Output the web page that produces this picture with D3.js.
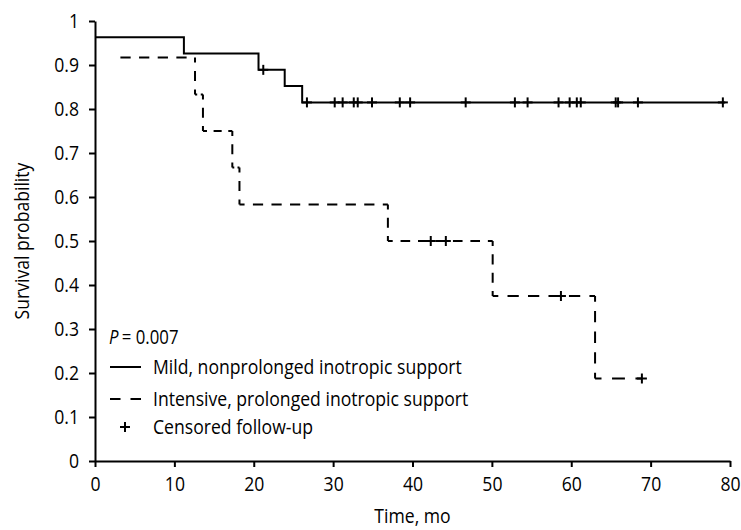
<!DOCTYPE html>
<html>
<head>
<meta charset="utf-8">
<script src="https://cdn.jsdelivr.net/npm/d3@7"></script>
<style>
  html, body { margin: 0; padding: 0; background: #fff; }
  svg text { font-family: "Open Sans", "Noto Sans", sans-serif; fill: #000; }
</style>
</head>
<body>
<svg id="chart" width="741" height="530"></svg>
<script>
// ---------- data ----------
const xTicks = [0, 10, 20, 30, 40, 50, 60, 70, 80];
const yTicks = [0, 0.1, 0.2, 0.3, 0.4, 0.5, 0.6, 0.7, 0.8, 0.9, 1];

// Mild, nonprolonged inotropic support
const mildStart = 0;
const mildEnd = 79.4;
const mildEventTimes = [11.2, 20.6, 23.9, 26.1];
const mildSurvival = [0.963, 0.926, 0.889, 0.852, 0.815];
const mildCensored = [21.2, 26.7, 30.2, 31.2, 32.6, 33.1, 34.9, 38.4, 39.7, 46.7,
                      52.9, 54.5, 58.4, 59.8, 60.7, 61.2, 65.6, 65.9, 68.4, 79.1];

// Intensive, prolonged inotropic support
const intStart = 3.2;
const intEnd = 68.9;
const intEventTimes = [12.6, 13.6, 17.3, 18.2, 36.9, 50.1, 63.0];
const intSurvival = [0.917, 0.833, 0.75, 0.667, 0.583, 0.5, 0.375, 0.1875];
const intCensored = [42.3, 44.2, 58.7, 68.9];

const legendLabels = ["Mild, nonprolonged inotropic support",
                      "Intensive, prolonged inotropic support",
                      "Censored follow-up"];
const pLabel = "= 0.007";
const xTitle = "Time, mo";
const yTitle = "Survival probability";

// ---------- layout ----------
const svg = d3.select("#chart");
const x = d3.scaleLinear().domain([0, 80]).range([95, 730]);
const y = d3.scaleLinear().domain([0, 1]).range([461, 21]);
const FS = 20;
const SQ = 0.88; // horizontal condensing of text

function condense(sel) {
  sel.each(function () {
    const w = this.getComputedTextLength();
    d3.select(this).attr("textLength", w * SQ).attr("lengthAdjust", "spacingAndGlyphs");
  });
}

function stepPoints(start, end, times, surv) {
  const pts = [[start, surv[0]]];
  times.forEach((t, i) => { pts.push([t, surv[i]]); pts.push([t, surv[i + 1]]); });
  pts.push([end, surv[surv.length - 1]]);
  return pts;
}
function survAt(t, times, surv) {
  let s = surv[0];
  times.forEach((et, i) => { if (t >= et) s = surv[i + 1]; });
  return s;
}

// ---------- axes ----------
const xAxis = d3.axisBottom(x).tickValues(xTicks).tickFormat(d3.format("d"))
  .tickSize(6).tickSizeOuter(0).tickPadding(10);
const yAxis = d3.axisLeft(y).tickValues(yTicks)
  .tickFormat(d => d === 0 || d === 1 ? d3.format("d")(d) : d3.format(".1f")(d))
  .tickSize(6).tickSizeOuter(0).tickPadding(10);

const gx = svg.append("g").attr("transform", `translate(0,${y(0)})`).call(xAxis);
const gy = svg.append("g").attr("transform", `translate(${x(0)},0)`).call(yAxis);
[gx, gy].forEach(g => {
  g.select(".domain").attr("stroke", "#000").attr("stroke-width", 2);
  g.selectAll(".tick line").attr("stroke", "#000").attr("stroke-width", 2);
  g.selectAll(".tick text").attr("font-size", FS).attr("font-family", "Open Sans").attr("fill", "#000")
    .call(condense);
});

svg.append("text").attr("x", (x(0) + x(80)) / 2).attr("y", 523)
  .attr("text-anchor", "middle").attr("font-size", FS).text(xTitle).call(condense);
svg.append("text").attr("transform", `translate(29,${(y(0) + y(1)) / 2}) rotate(-90)`)
  .attr("text-anchor", "middle").attr("font-size", FS).text(yTitle).call(condense);

// ---------- curves ----------
const line = d3.line().x(d => x(d[0])).y(d => y(d[1]));

// solid curve
svg.append("path")
  .attr("d", line(stepPoints(mildStart, mildEnd, mildEventTimes, mildSurvival)))
  .attr("fill", "none").attr("stroke", "#000").attr("stroke-width", 2);

// dashed curve: each segment with dashes aligned to its ends
const intPts = stepPoints(intStart, intEnd, intEventTimes, intSurvival);
const P = 19, DR = 0.55;
for (let i = 0; i < intPts.length - 1; i++) {
  const a = intPts[i], b = intPts[i + 1];
  const x1 = x(a[0]), y1 = y(a[1]), x2 = x(b[0]), y2 = y(b[1]);
  const L = Math.hypot(x2 - x1, y2 - y1);
  if (L < 0.5) continue;
  const m = Math.max(1, Math.round(L / P));
  const p = L / m, d = p * DR;
  svg.append("line").attr("x1", x1).attr("y1", y1).attr("x2", x2).attr("y2", y2)
    .attr("stroke", "#000").attr("stroke-width", 2)
    .attr("stroke-dasharray", `${d},${p - d}`)
    .attr("stroke-dashoffset", i === 0 ? 0 : d / 2);
}

// censor marks
function plus(g, cx, cy, r) {
  g.append("line").attr("x1", cx - r).attr("x2", cx + r).attr("y1", cy).attr("y2", cy)
    .attr("stroke", "#000").attr("stroke-width", 2);
  g.append("line").attr("x1", cx).attr("x2", cx).attr("y1", cy - r).attr("y2", cy + r)
    .attr("stroke", "#000").attr("stroke-width", 2);
}
const gc = svg.append("g");
mildCensored.forEach(t => plus(gc, x(t), y(survAt(t, mildEventTimes, mildSurvival)), 5));
intCensored.forEach(t => plus(gc, x(t), y(survAt(t, intEventTimes, intSurvival)), 5));

// ---------- legend ----------
const lg = svg.append("g");
const pText = lg.append("text").attr("x", 109).attr("y", 344).attr("font-size", FS);
pText.append("tspan").attr("font-style", "italic").text("P");
pText.append("tspan").attr("dx", 4).text(pLabel);
pText.call(condense);

const rowY = [367, 399, 427];
lg.append("line").attr("x1", 110).attr("x2", 141).attr("y1", rowY[0]).attr("y2", rowY[0])
  .attr("stroke", "#000").attr("stroke-width", 2);
lg.append("line").attr("x1", 110).attr("x2", 141).attr("y1", rowY[1]).attr("y2", rowY[1])
  .attr("stroke", "#000").attr("stroke-width", 2).attr("stroke-dasharray", "10.5,10");
plus(lg, 125, rowY[2], 5);
legendLabels.forEach((t, i) => {
  lg.append("text").attr("x", 153).attr("y", rowY[i] + 7).attr("font-size", FS).text(t).call(condense);
});
</script>
</body>
</html>
